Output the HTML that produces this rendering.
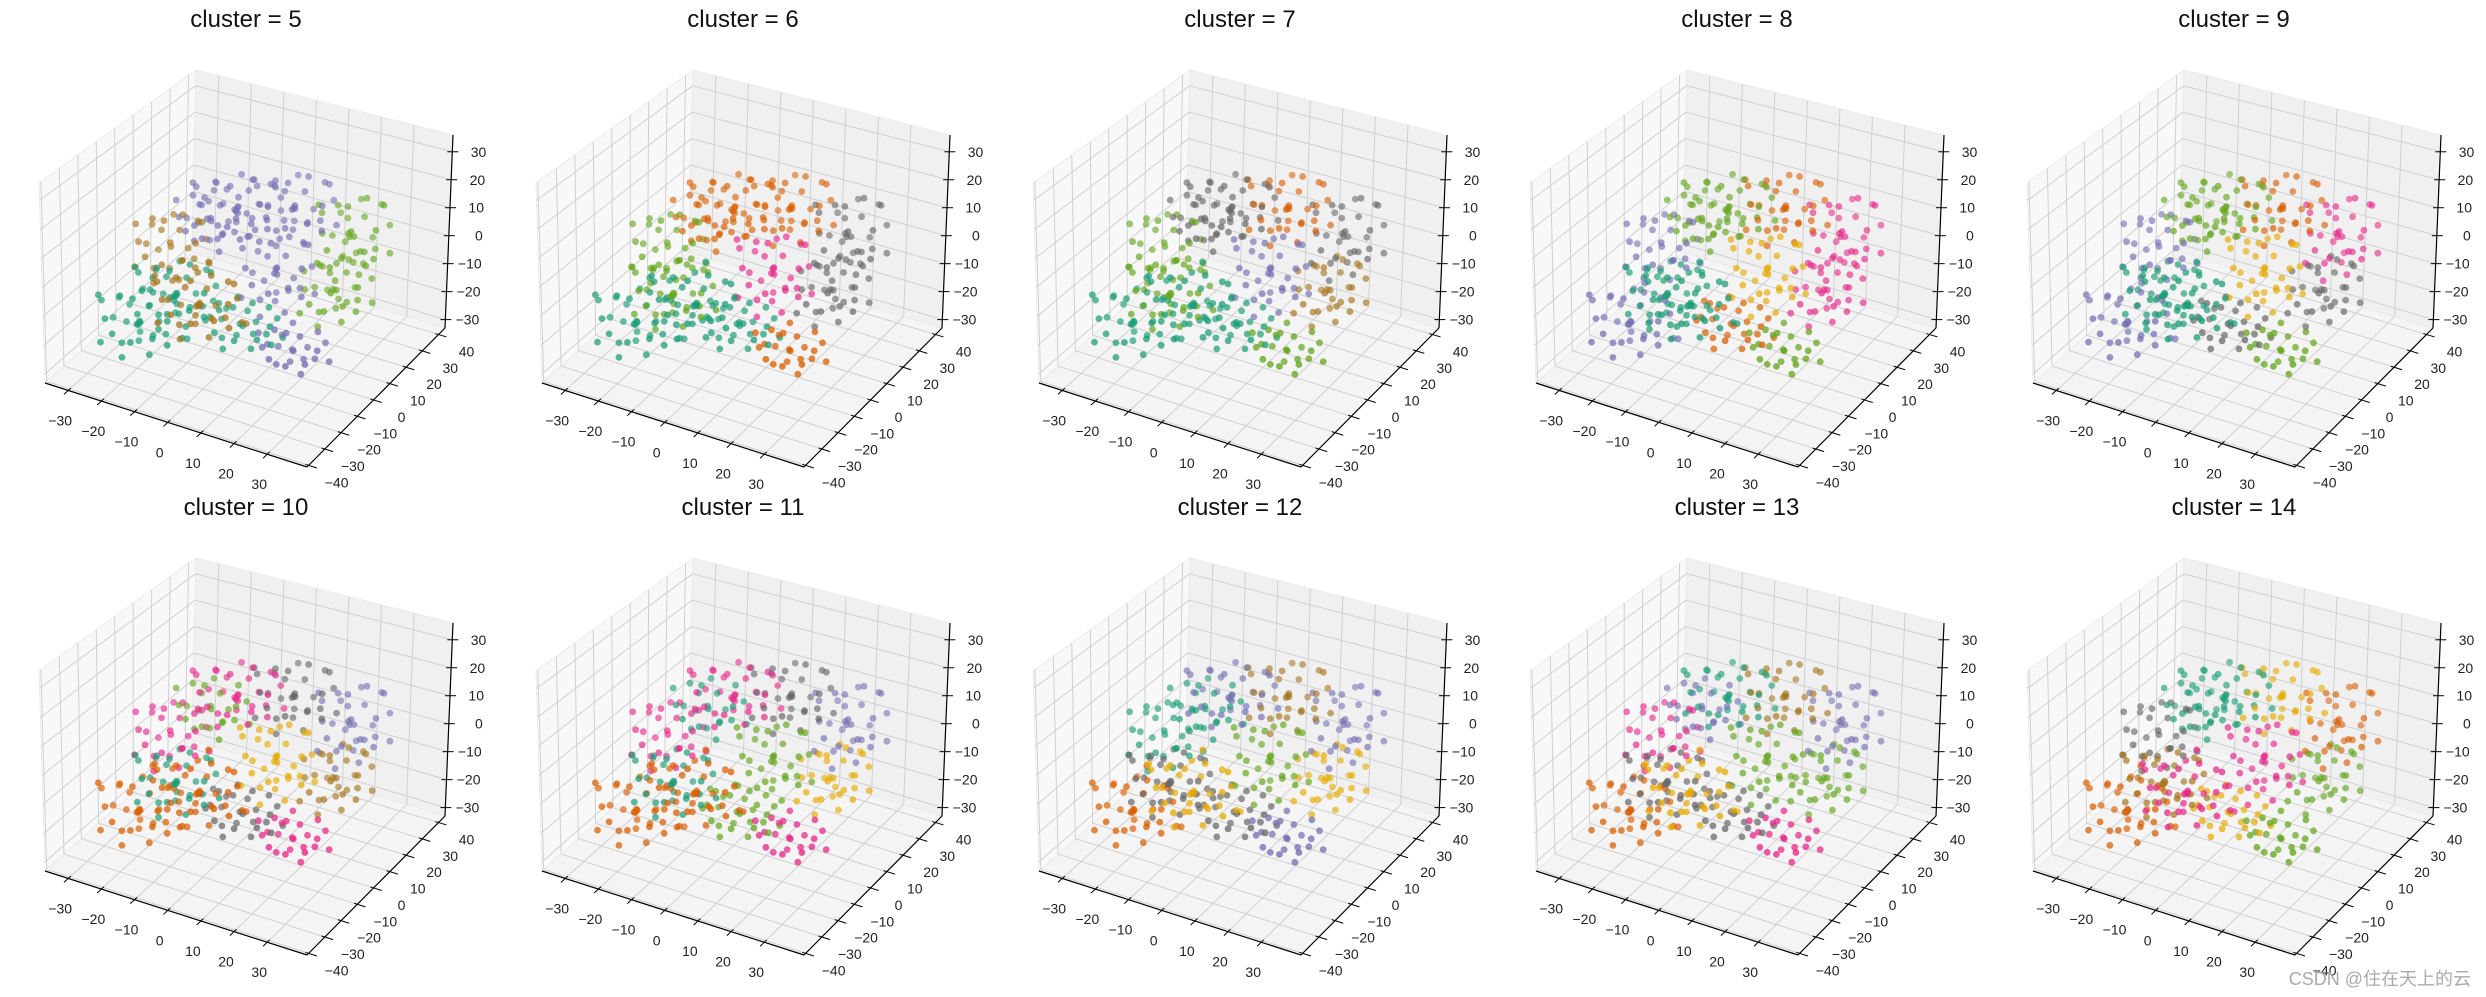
<!DOCTYPE html>
<html><head><meta charset="utf-8"><style>
html,body{margin:0;padding:0;background:#fff;}
svg{display:block;font-family:"Liberation Sans","DejaVu Sans",sans-serif;}
</style></head><body>
<svg id="fig" width="2486" height="997" viewBox="0 0 2486 997"></svg>
<script>
// ---- data ----
const clusterCounts = [5,6,7,8,9,10,11,12,13,14];
const xTicks = [-30,-20,-10,0,10,20,30];
const yTicks = [-40,-30,-20,-10,0,10,20,30,40];
const zTicks = [-30,-20,-10,0,10,20,30];
const palette = ["#1b9e77","#d95f02","#7570b3","#e7298a","#66a61e","#e6ab02","#a6761d","#666666"];
// embedding groups: center, spread, count
const groupCenters = [[22,26,3],[21,18,-12],[-3,6,16],[9,16,14],[9,6,-4],[-20,-18,-18],[-13,-10,-10],[-18,-4,2],[-4,-15,-8],[20,-6,-20],[3,-4,-18],[-9,2,11]];
const groupSpreads = [[9,12,13],[9,12,10],[12,12,9],[11,11,11],[10,10,13],[11,11,10],[11,11,10],[10,10,11],[12,10,10],[10,9,7],[12,9,7],[10,10,10]];
const groupCounts = [34,32,34,34,34,36,34,30,36,24,28,24];
const offsets = [[0,0,0],[0.6,0.2,-0.3],[-0.5,0.4,0.2],[0.3,-0.6,0.5],[-0.3,-0.4,-0.6],[0.8,-0.1,0.4],[-0.8,0.1,-0.2],[0.1,0.8,-0.4],[0.2,-0.9,-0.1],[-0.6,-0.7,0.3],[0.5,0.6,0.7],[-0.2,0.3,-0.9],[0.9,0.5,-0.5],[-0.9,-0.3,0.6],[0.4,-0.3,-0.8],[-0.4,0.9,0.5],[0.7,-0.7,0.1],[-0.1,-0.2,0.9],[0,0.5,0.3],[-0.7,0.6,-0.6],[0.3,0.1,-0.4],[-0.3,-0.9,0],[0.6,0.9,0],[-0.5,-0.1,0.8],[0.95,-0.4,-0.2],[-0.95,0.7,0.1],[0.2,0.3,0.95],[-0.2,-0.6,-0.95],[0.75,0.35,0.85],[-0.65,-0.85,-0.45],[0.45,-0.95,0.65],[-0.35,0.65,-0.85],[0.15,-0.45,0.25],[-0.85,-0.55,0.95],[0.85,0.85,-0.75],[-0.15,0.95,0.95]];
// color index per group for each subplot
const groupColors = [
 [4,4,2,2,2,0,0,6,6,2,0,2],
 [7,7,1,1,3,0,4,4,0,1,0,1],
 [7,6,7,1,2,0,4,4,0,4,0,7],
 [3,3,4,1,5,2,0,2,0,4,1,4],
 [3,7,4,1,5,2,0,2,0,4,7,4],
 [2,6,3,7,5,1,0,3,1,3,7,4],
 [2,5,3,7,4,1,0,3,1,3,4,0],
 [2,5,2,6,4,1,7,0,5,2,7,0],
 [2,4,0,6,4,1,7,3,5,3,7,2],
 [1,4,0,5,3,1,6,7,3,4,5,0]
];
// ---- geometry ----
const XR=[-37,42], YR=[-41,44], ZR=[-33,36];
const V={
 "000":[45,383],"100":[307,467],"110":[445,328],"010":[192,252],
 "001":[39,183],"101":[308,257],"111":[453,135],"011":[196,70]};
const NS="http://www.w3.org/2000/svg";
const svg=document.getElementById('fig');
function mk(tag,attrs,parent){const e=document.createElementNS(NS,tag);for(const k in attrs)e.setAttribute(k,attrs[k]);(parent||svg).appendChild(e);return e;}
function proj(x,y,z,ox,oy){
 const u=(x-XR[0])/(XR[1]-XR[0]), v=(y-YR[0])/(YR[1]-YR[0]), w=(z-ZR[0])/(ZR[1]-ZR[0]);
 let px=0,py=0;
 for(const a of [0,1])for(const b of [0,1])for(const c of [0,1]){
  const wt=(a?u:1-u)*(b?v:1-v)*(c?w:1-w); const p=V[""+a+b+c]; px+=wt*p[0]; py+=wt*p[1];}
 return [px+ox,py+oy];
}
function line(p,q,stroke,sw,g){return mk('line',{x1:p[0],y1:p[1],x2:q[0],y2:q[1],stroke:stroke,'stroke-width':sw},g);}
function poly(pts,fill,g){return mk('polygon',{points:pts.map(p=>p.join(',')).join(' '),fill:fill,stroke:'#e8e8e8','stroke-width':0.8},g);}
function fmt(v){return v<0?'\u2212'+Math.abs(v):''+v;}

const points=[];
groupCenters.forEach((c,gi)=>{
 for(let i=0;i<groupCounts[gi];i++){
  const o=offsets[i%offsets.length], s=groupSpreads[gi];
  points.push({x:c[0]+o[0]*s[0],y:c[1]+o[1]*s[1],z:c[2]+o[2]*s[2],g:gi});
 }
});
points.sort((a,b)=>(0.5*a.x-0.866*a.y)-(0.5*b.x-0.866*b.y));

clusterCounts.forEach((k,si)=>{
 const col=si%5,row=Math.floor(si/5);
 const ox=col*497, oy=row*488;
 const g=mk('g',{});
 
 
 const P=(x,y,z)=>proj(x,y,z,ox,oy);
 const floor=poly([P(XR[0],YR[0],ZR[0]),P(XR[1],YR[0],ZR[0]),P(XR[1],YR[1],ZR[0]),P(XR[0],YR[1],ZR[0])],'#f4f4f4',g);
 
 
 const left=poly([P(XR[0],YR[0],ZR[0]),P(XR[0],YR[1],ZR[0]),P(XR[0],YR[1],ZR[1]),P(XR[0],YR[0],ZR[1])],'#f8f8f8',g);
 
 
 const right=poly([P(XR[0],YR[1],ZR[0]),P(XR[1],YR[1],ZR[0]),P(XR[1],YR[1],ZR[1]),P(XR[0],YR[1],ZR[1])],'#f0f0f0',g);
 
 
 const GC='#d0d0d0';
 xTicks.forEach(x=>{line(P(x,YR[0],ZR[0]),P(x,YR[1],ZR[0]),GC,1,g);line(P(x,YR[1],ZR[0]),P(x,YR[1],ZR[1]),GC,1,g);});
 yTicks.forEach(y=>{line(P(XR[0],y,ZR[0]),P(XR[1],y,ZR[0]),GC,1,g);line(P(XR[0],y,ZR[0]),P(XR[0],y,ZR[1]),GC,1,g);});
 zTicks.forEach(z=>{line(P(XR[0],YR[0],z),P(XR[0],YR[1],z),GC,1,g);line(P(XR[0],YR[1],z),P(XR[1],YR[1],z),GC,1,g);});
 const ax=line(P(XR[0],YR[0],ZR[0]),P(XR[1],YR[0],ZR[0]),'#000',1.2,g);
 
 
 const ay=line(P(XR[1],YR[0],ZR[0]),P(XR[1],YR[1],ZR[0]),'#000',1.2,g);
 
 
 const az=line(P(XR[1],YR[1],ZR[0]),P(XR[1],YR[1],ZR[1]),'#000',1.2,g);
 
 
 xTicks.forEach(x=>{
  line(P(x,YR[0]+1.5,ZR[0]),P(x,YR[0]-2.5,ZR[0]),'#000',1,g);
  const p=P(x,YR[0],ZR[0]);
  const t=mk('text',{x:p[0]-8,y:p[1]+35,'font-size':14,'text-anchor':'middle',fill:'#222'},g);t.textContent=fmt(x);
  
  
 });
 yTicks.forEach(y=>{
  line(P(XR[1]-1,y,ZR[0]),P(XR[1]+2.5,y,ZR[0]),'#000',1,g);
  const p=P(XR[1],y,ZR[0]);
  const t=mk('text',{x:p[0]+28,y:p[1]+22,'font-size':14,'text-anchor':'middle',fill:'#222'},g);t.textContent=fmt(y);
  
  
 });
 zTicks.forEach(z=>{
  const p=P(XR[1],YR[1],z);
  line([p[0]-5,p[1]],[p[0]+6,p[1]],'#000',1,g);
  const t=mk('text',{x:p[0]+34,y:p[1]+5,'font-size':14,'text-anchor':'end',fill:'#222'},g);t.textContent=fmt(z);
  
  
 });
 const cols=groupColors[si];
 points.forEach(pt=>{
  const p=P(pt.x,pt.y,pt.z);
  const near=(0.5*pt.x-0.866*pt.y+45)/80;
  const c=mk('circle',{cx:p[0].toFixed(1),cy:p[1].toFixed(1),r:3.4,fill:palette[cols[pt.g]],'fill-opacity':(0.45+0.4*Math.max(0,Math.min(1,near))).toFixed(2)},g);
  
  
 });
 const tt=mk('text',{x:ox+246,y:oy+27,'font-size':24,'text-anchor':'middle',fill:'#111'},g);
 tt.textContent='cluster = '+k;
 
 
});
const wm=mk('text',{x:2471,y:985,'font-size':18,'text-anchor':'end',fill:'#aaaaaa','font-family':'"Liberation Sans","Noto Sans CJK SC",sans-serif'});
wm.textContent='CSDN @住在天上的云';


</script>
</body></html>
